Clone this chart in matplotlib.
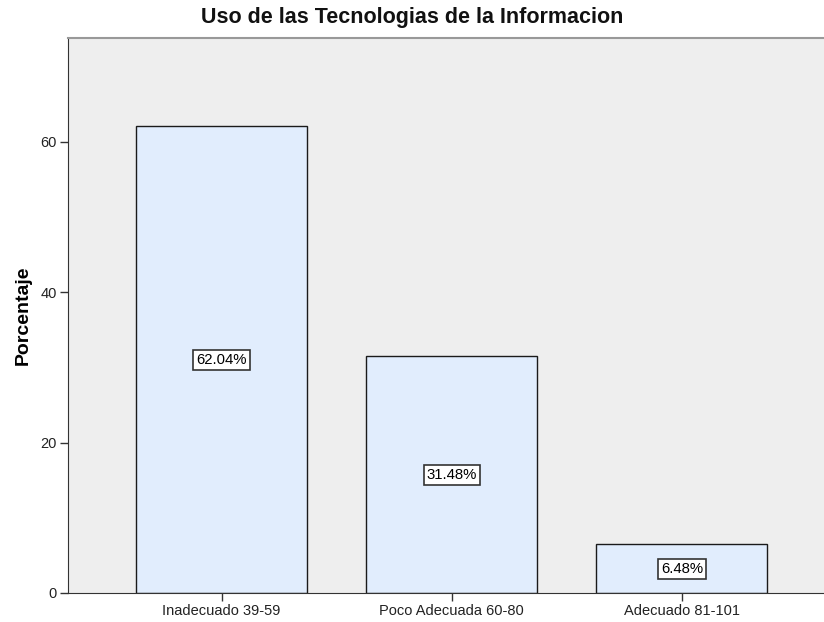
import matplotlib
matplotlib.use("Agg")
import matplotlib.pyplot as plt

categories = ["Inadecuado 39-59", "Poco Adecuada 60-80", "Adecuado 81-101"]
percentages = [62.04, 31.48, 6.48]
y_ticks = [0, 20, 40, 60]

plt.rcParams['font.family'] = ['Liberation Sans', 'DejaVu Sans']

fig = plt.figure(figsize=(8.24, 6.22), dpi=100)
ax = fig.add_axes([68 / 824, 29 / 622, 1 - 68 / 824, 555 / 622])
ax.set_facecolor('#eeeeee')

x = range(len(categories))
ax.bar(x, percentages, width=0.743, color='#e1edfd', edgecolor='#1a1a1a', linewidth=1.0, zorder=2)

for i, v in enumerate(percentages):
    ax.text(i, v / 2, f"{v:.2f}%", ha='center', va='center', fontsize=10.7, zorder=3,
            bbox=dict(boxstyle='square,pad=0.2', facecolor='white', edgecolor='#333333', linewidth=1.2))

ax.set_xlim(-0.667, 2.617)
ax.set_ylim(0, 73.8)
ax.set_xticks(list(x))
ax.set_xticklabels(categories, fontsize=10.5)
ax.set_yticks(y_ticks)
ax.set_yticklabels([str(t) for t in y_ticks], fontsize=10.5)
ax.tick_params(axis='both', length=6, width=1.0, color='#333333', labelcolor='#222222', pad=2)

ax.spines['left'].set_color('#333333')
ax.spines['bottom'].set_color('#333333')
ax.spines['top'].set_color('#999999')
ax.spines['top'].set_linewidth(1.5)
ax.spines['right'].set_visible(False)

ax.set_ylabel("Porcentaje", fontsize=14, fontweight='bold', labelpad=6)
# title is centred on the figure, not on the axes
fig.text(0.5, 1 - 18 / 622, "Uso de las Tecnologias de la Informacion", ha='center', va='center',
         fontsize=15.5, fontweight='bold', color='#111111')

fig.savefig("out.png", dpi=100)
